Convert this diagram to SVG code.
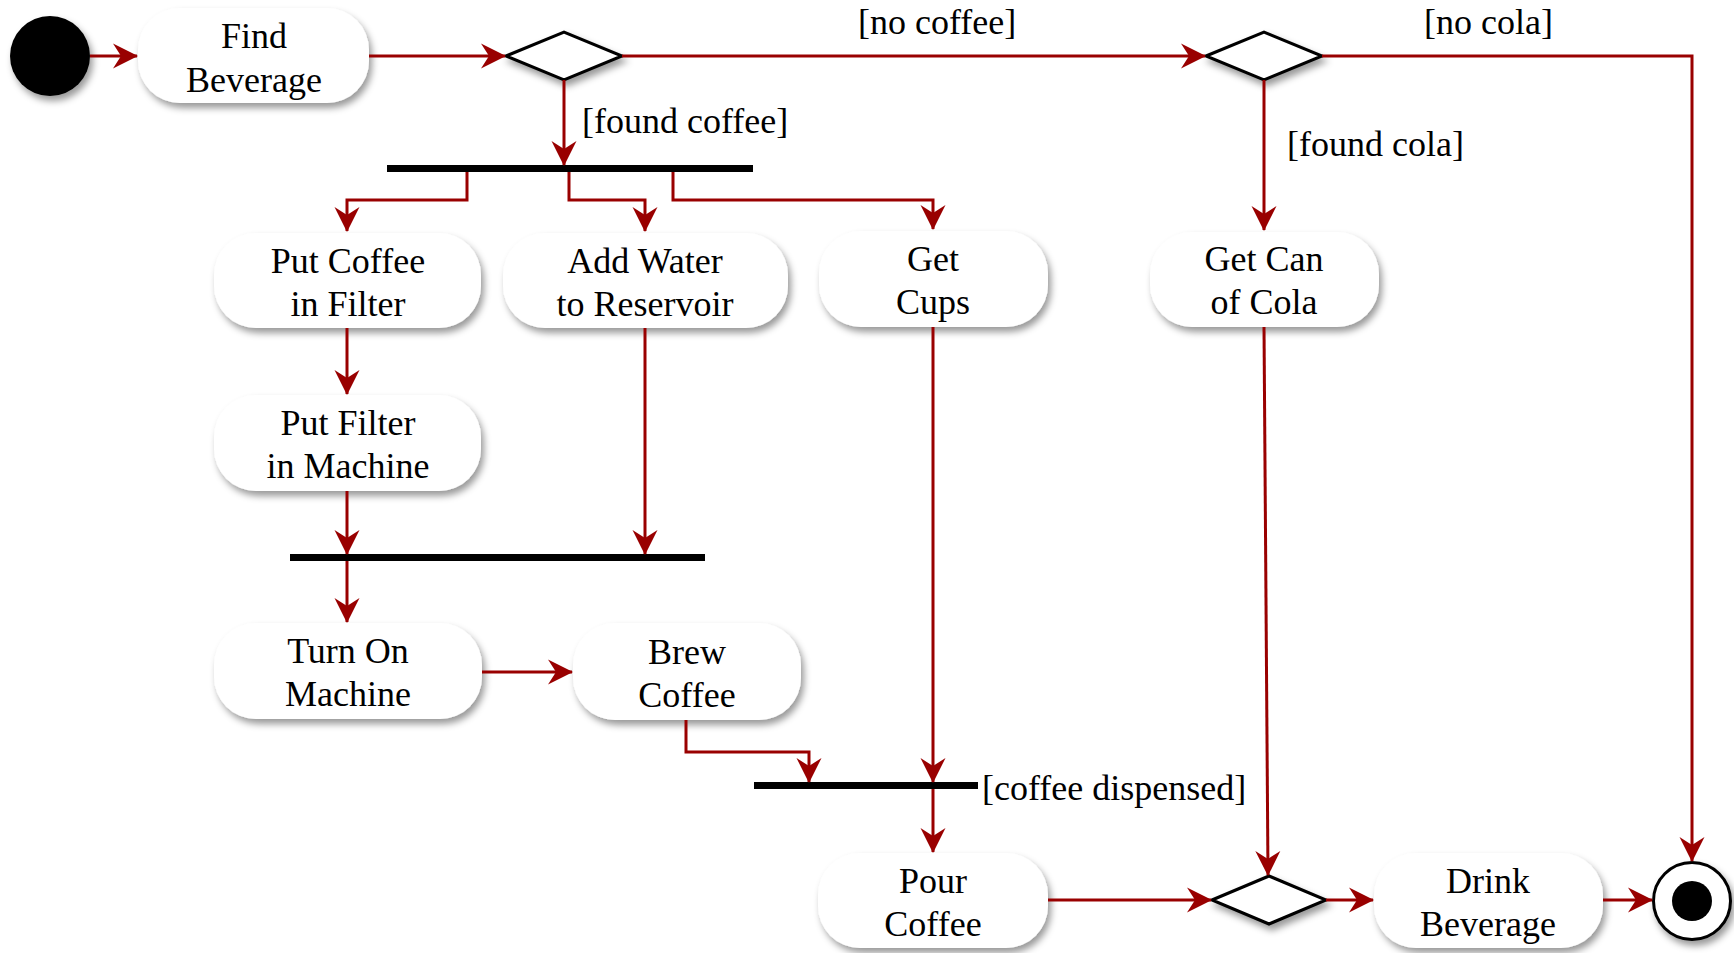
<svg xmlns="http://www.w3.org/2000/svg" width="1734" height="953" viewBox="0 0 1734 953">
<defs>
<filter id="sh" x="-20%" y="-20%" width="150%" height="160%">
<feDropShadow dx="3" dy="5" stdDeviation="3.5" flood-color="#000" flood-opacity="0.4"/>
</filter>
<marker id="arr" markerUnits="userSpaceOnUse" viewBox="-26 -14 28 28" refX="0" refY="0" markerWidth="28" markerHeight="28" orient="auto">
<path d="M1,0 L-24,-12.5 L-16,0 L-24,12.5 Z" fill="#990000"/>
</marker>
</defs>
<style>
.n{fill:#fff;filter:url(#sh)}
.t{font-family:"Liberation Serif","Times New Roman",serif;font-size:36px;fill:#000;text-anchor:middle}
.l{font-family:"Liberation Serif","Times New Roman",serif;font-size:36px;fill:#000}
.c{fill:none;stroke:#990000;stroke-width:3;marker-end:url(#arr)}
.d{fill:#fff;stroke:#000;stroke-width:3;filter:url(#sh)}
.b{fill:#000}
</style>
<rect width="1734" height="953" fill="#fff"/>

<g id="start"><circle cx="50" cy="56" r="40" fill="#000" filter="url(#sh)"/></g>

<g id="find-beverage"><rect class="n" x="138" y="8" width="231" height="95" rx="42"/><text class="t" x="254" y="48">Find</text><text class="t" x="254" y="92">Beverage</text></g>

<g id="decision-coffee"><polygon class="d" points="506,56 564,32 622,56 564,80"/></g>
<g id="decision-cola"><polygon class="d" points="1206,56 1264,32 1322,56 1264,80"/></g>

<g id="fork1"><rect class="b" x="387" y="165" width="366" height="7"/></g>

<g id="put-coffee"><rect class="n" x="214" y="233" width="267" height="95" rx="42"/><text class="t" x="348" y="273">Put Coffee</text><text class="t" x="348" y="316">in Filter</text></g>
<g id="add-water"><rect class="n" x="503" y="233" width="285" height="95" rx="42"/><text class="t" x="645" y="273">Add Water</text><text class="t" x="645" y="316">to Reservoir</text></g>
<g id="get-cups"><rect class="n" x="819" y="231" width="229" height="96" rx="42"/><text class="t" x="933" y="271">Get</text><text class="t" x="933" y="314">Cups</text></g>
<g id="get-cola"><rect class="n" x="1150" y="232" width="229" height="95" rx="42"/><text class="t" x="1264" y="271">Get Can</text><text class="t" x="1264" y="314">of Cola</text></g>
<g id="put-filter"><rect class="n" x="214" y="395" width="267" height="96" rx="42"/><text class="t" x="348" y="435">Put Filter</text><text class="t" x="348" y="478">in Machine</text></g>

<g id="join1"><rect class="b" x="290" y="554" width="415" height="7"/></g>

<g id="turn-on"><rect class="n" x="214" y="623" width="268" height="96" rx="42"/><text class="t" x="348" y="663">Turn On</text><text class="t" x="348" y="706">Machine</text></g>
<g id="brew"><rect class="n" x="573" y="623" width="228" height="97" rx="42"/><text class="t" x="687" y="664">Brew</text><text class="t" x="687" y="707">Coffee</text></g>

<g id="join2"><rect class="b" x="754" y="782" width="224" height="7"/></g>

<g id="pour"><rect class="n" x="818" y="853" width="230" height="95" rx="42"/><text class="t" x="933" y="893">Pour</text><text class="t" x="933" y="936">Coffee</text></g>
<g id="merge"><polygon class="d" points="1212,900 1269,876 1326,900 1269,924"/></g>
<g id="drink"><rect class="n" x="1374" y="853" width="229" height="95" rx="42"/><text class="t" x="1488" y="893">Drink</text><text class="t" x="1488" y="936">Beverage</text></g>

<g id="end"><circle cx="1692" cy="901" r="38.5" fill="#fff" stroke="#000" stroke-width="3" filter="url(#sh)"/><circle cx="1692" cy="901" r="20" fill="#000"/></g>

<g id="connectors">
<path class="c" d="M90,56 H137"/>
<path class="c" d="M369,56 H505"/>
<path class="c" d="M622,56 H1205"/>
<path class="c" d="M1322,56 H1692 V861"/>
<path class="c" d="M564,80 V165"/>
<path class="c" d="M467,172 V200 H347 V231"/>
<path class="c" d="M569,172 V200 H645 V231"/>
<path class="c" d="M673,172 V200 H933 V229"/>
<path class="c" d="M1264,80 V230"/>
<path class="c" d="M347,328 V394"/>
<path class="c" d="M347,491 V554"/>
<path class="c" d="M645,328 V554"/>
<path class="c" d="M347,561 V622"/>
<path class="c" d="M482,672 H572"/>
<path class="c" d="M686,720 V752 H809 V782"/>
<path class="c" d="M933,327 V782"/>
<path class="c" d="M933,789 V852"/>
<path class="c" d="M1264,327 L1268,875"/>
<path class="c" d="M1048,900 H1211"/>
<path class="c" d="M1326,900 H1373"/>
<path class="c" d="M1603,900 H1652"/>
</g>

<g id="labels">
<text class="l" x="858" y="34">[no coffee]</text>
<text class="l" x="1424" y="34">[no cola]</text>
<text class="l" x="582" y="133">[found coffee]</text>
<text class="l" x="1287" y="156">[found cola]</text>
<text class="l" x="982" y="800">[coffee dispensed]</text>
</g>
</svg>
